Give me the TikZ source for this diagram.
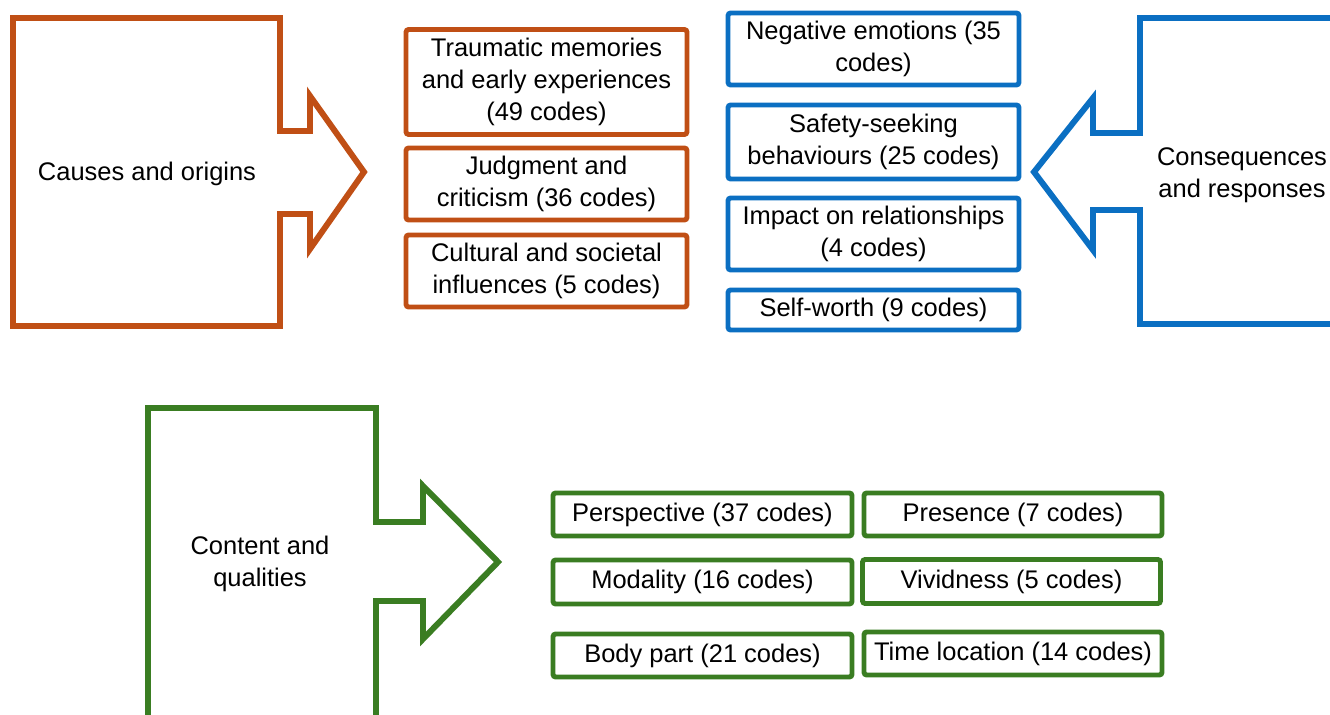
\documentclass[tikz,border=0pt]{standalone}
\usepackage{fontspec}
\setmainfont{Liberation Sans}
\usetikzlibrary{calc}
\definecolor{th-orange}{HTML}{C04F15}
\definecolor{th-blue}{HTML}{0B6FC2}
\definecolor{th-green}{HTML}{3A7D22}
\tikzset{
  codebox/.style={draw=#1, line width=2.8pt, rounded corners=1.5pt, align=center,
    inner sep=1pt, font=\fontsize{14.5}{18}\selectfont},
  themearrow/.style={draw=#1, line width=3.4pt, line join=miter},
  themelabel/.style={align=center, font=\fontsize{14.5}{18}\selectfont},
}

\begin{document}
\begin{tikzpicture}[x=0.02cm, y=-0.02cm]
    \clip (0,0) rectangle (1330,715);
    % causes and origins
    \draw[themearrow=th-orange] (13,18) -- (280,18) -- (280,131) -- (310,131) -- (310,96)
        -- (364,172) -- (310,249) -- (310,214) -- (280,214) -- (280,326) -- (13,326) -- cycle;
    \node[themelabel] (causes) at (147,174) {Causes and origins};
    \node[codebox=th-orange, minimum width=5.62cm, minimum height=2.1cm] (trauma) at (546.5,82)
        {Traumatic memories\\and early experiences\\(49 codes)};
    \node[codebox=th-orange, minimum width=5.62cm, minimum height=1.44cm] (judgment) at (546.5,184)
        {Judgment and\\criticism (36 codes)};
    \node[codebox=th-orange, minimum width=5.62cm, minimum height=1.44cm] (culture) at (546.5,271)
        {Cultural and societal\\influences (5 codes)};
    % consequences and responses
    \draw[themearrow=th-blue] (1380,18) -- (1140,18) -- (1140,133) -- (1093,133) -- (1093,98)
        -- (1034,172) -- (1093,250) -- (1093,210) -- (1140,210) -- (1140,324) -- (1380,324);
    \node[themelabel] (conseq) at (1242,175) {Consequences\\and responses};
    \node[codebox=th-blue, minimum width=5.82cm, minimum height=1.44cm] (negative) at (873.5,49)
        {Negative emotions (35\\codes)};
    \node[codebox=th-blue, minimum width=5.82cm, minimum height=1.48cm] (safety) at (873.5,142)
        {Safety-seeking\\behaviours (25 codes)};
    \node[codebox=th-blue, minimum width=5.82cm, minimum height=1.44cm] (impact) at (873.5,234)
        {Impact on relationships\\(4 codes)};
    \node[codebox=th-blue, minimum width=5.82cm, minimum height=0.8cm] (worth) at (873.5,310)
        {Self-worth (9 codes)};
    % content and qualities
    \draw[themearrow=th-green] (148,740) -- (148,408) -- (376,408) -- (376,522) -- (423,522) -- (423,486)
        -- (498,562) -- (423,639) -- (423,601) -- (376,601) -- (376,740);
    \node[themelabel] (content) at (260,564) {Content and\\qualities};
    \node[codebox=th-green, minimum width=5.98cm, minimum height=0.86cm] (persp) at (702.5,514.5)
        {Perspective (37 codes)};
    \node[codebox=th-green, minimum width=5.96cm, minimum height=0.86cm] (presence) at (1013,514.5)
        {Presence (7 codes)};
    \node[codebox=th-green, minimum width=5.98cm, minimum height=0.88cm] (modality) at (702.5,582)
        {Modality (16 codes)};
    \node[codebox=th-green, minimum width=5.96cm, minimum height=0.88cm] (vivid) at (1011.5,581.5)
        {Vividness (5 codes)};
    \node[codebox=th-green, minimum width=5.98cm, minimum height=0.86cm] (body) at (702.5,655.5)
        {Body part (21 codes)};
    \node[codebox=th-green, minimum width=5.96cm, minimum height=0.86cm] (timeloc) at (1013,653.5)
        {Time location (14 codes)};
\end{tikzpicture}
\end{document}
